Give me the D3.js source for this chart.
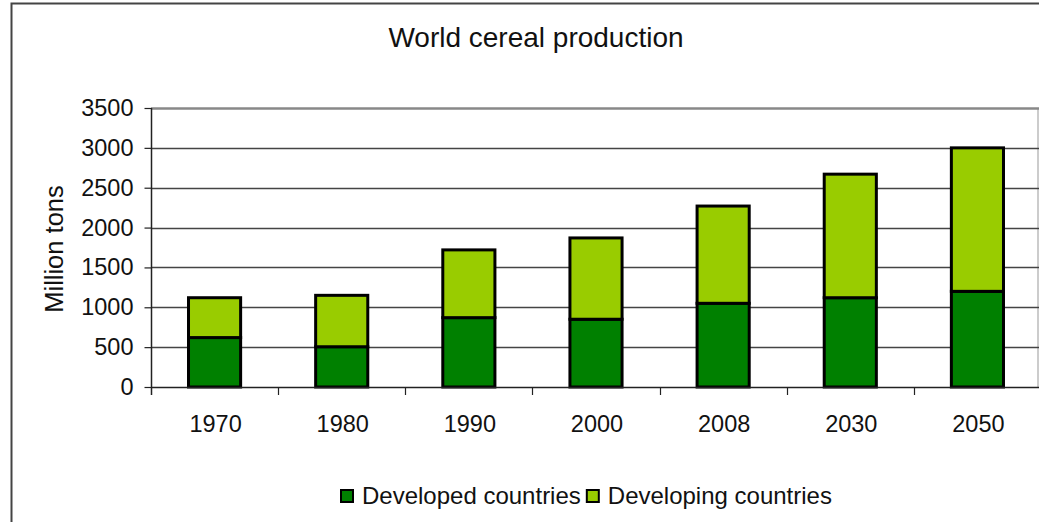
<!DOCTYPE html>
<html><head><meta charset="utf-8">
<script src="https://cdn.jsdelivr.net/npm/d3@7"></script>
<style>
html,body{margin:0;padding:0;background:#fff;}
svg{display:block;font-family:"Liberation Sans",Arial,sans-serif;}
</style></head>
<body>
<svg id="chart" width="1039" height="522"></svg>
<script>
const categories = ["1970","1980","1990","2000","2008","2030","2050"];
const developed = [620, 505, 870, 850, 1050, 1120, 1200];
const developing = [500, 645, 850, 1020, 1220, 1550, 1800];
const yTicks = [0,500,1000,1500,2000,2500,3000,3500];
const seriesNames = ["Developed countries","Developing countries"];
const seriesColors = ["#008000","#99CC00"];

(function(){
const svg = d3.select("#chart");
const W = 1039, H = 522;
const pLeft = 151, pRight = 1041, pTop = 108, pBottom = 387;

// outer border
svg.append("rect").attr("x",11.5).attr("y",3.5).attr("width",W+20).attr("height",H+20)
  .attr("fill","#fff").attr("stroke","#444").attr("stroke-width",2);

const x = d3.scaleBand().domain(categories).range([pLeft,pRight]).padding(0);
const y = d3.scaleLinear().domain([0,3500]).range([pBottom,pTop]);

// plot area right border
svg.append("line").attr("x1",1038).attr("x2",1038).attr("y1",pTop).attr("y2",pBottom)
  .attr("stroke","#bbb").attr("stroke-width",1.5);

// gridlines
svg.append("g").selectAll("line").data(yTicks.filter(d=>d>0)).join("line")
  .attr("x1",pLeft).attr("x2",W).attr("y1",d=>Math.round(y(d))+0.5).attr("y2",d=>Math.round(y(d))+0.5)
  .attr("stroke",d=>d===3500?"#888":"#444").attr("stroke-width",d=>d===3500?2.5:1.5);

// stacked data
const rows = categories.map((c,i)=>({cat:c, developed:developed[i], developing:developing[i]}));
const stack = d3.stack().keys(["developed","developing"])(rows);
const bw = x.bandwidth()*0.41;

const g = svg.append("g");
stack.forEach((s,si)=>{
  g.selectAll(null).data(s).join("rect")
    .attr("x",d=>x(d.data.cat)+x.bandwidth()/2-bw/2)
    .attr("y",d=>y(d[1]))
    .attr("width",bw)
    .attr("height",d=>y(d[0])-y(d[1]))
    .attr("fill",seriesColors[si])
    .attr("stroke","#000").attr("stroke-width",3);
});

// y axis
const yAxis = d3.axisLeft(y).tickValues(yTicks).tickSize(7).tickPadding(11).tickFormat(d3.format("d"));
const ya = svg.append("g").attr("transform",`translate(${pLeft+0.5},0)`).call(yAxis);
ya.select(".domain").remove();
ya.selectAll(".tick line").attr("stroke","#222").attr("stroke-width",1.2);
ya.selectAll(".tick text").attr("font-size",23.5).attr("fill","#111")
  .attr("font-family","Liberation Sans, Arial, sans-serif");
svg.append("line").attr("x1",pLeft+0.5).attr("x2",pLeft+0.5).attr("y1",pTop).attr("y2",pBottom+8)
  .attr("stroke","#222").attr("stroke-width",1.5);

// x axis baseline and ticks at boundaries
svg.append("line").attr("x1",pLeft).attr("x2",W).attr("y1",pBottom+0.5).attr("y2",pBottom+0.5)
  .attr("stroke","#222").attr("stroke-width",1.5);
const bounds = categories.map(c=>x(c)).slice(1);
svg.append("g").selectAll("line").data(bounds).join("line")
  .attr("x1",d=>Math.round(d)+0.5).attr("x2",d=>Math.round(d)+0.5).attr("y1",pBottom).attr("y2",pBottom+8)
  .attr("stroke","#222").attr("stroke-width",1.2);
svg.append("g").selectAll("text").data(categories).join("text")
  .attr("x",d=>x(d)+x.bandwidth()/2+1).attr("y",432)
  .attr("text-anchor","middle").attr("font-size",23.5).attr("fill","#111").text(d=>d);

// title
svg.append("text").attr("x",536).attr("y",47).attr("text-anchor","middle")
  .attr("font-size",28).attr("fill","#111").text("World cereal production");

// y label
svg.append("text").attr("transform","translate(63,249) rotate(-90)").attr("text-anchor","middle")
  .attr("font-size",25.5).attr("fill","#111").text("Million tons");

// legend
let lx = 340;
seriesNames.forEach((name,i)=>{
  const item = svg.append("g").attr("transform",`translate(${lx},489)`);
  item.append("rect").attr("x",1).attr("y",1).attr("width",12).attr("height",12)
    .attr("fill",seriesColors[i]).attr("stroke","#000").attr("stroke-width",2);
  const t = item.append("text").attr("x",22).attr("y",14.5).attr("font-size",24)
    .attr("fill","#111").text(name);
  lx += 22 + t.node().getComputedTextLength() + 5;
});
})();
</script>
</body></html>
